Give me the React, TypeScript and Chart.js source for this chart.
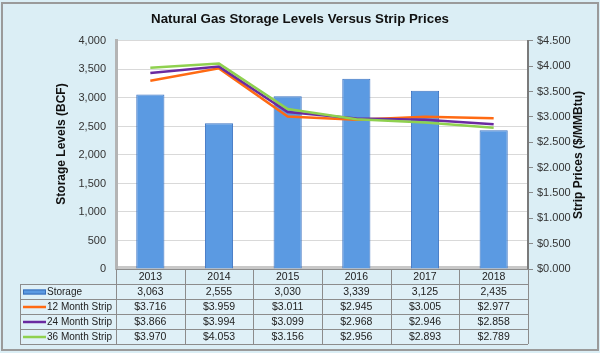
import React, { useEffect, useRef } from 'react';
import { Chart, registerables } from 'chart.js';

Chart.register(...registerables);

const categories = ['2013', '2014', '2015', '2016', '2017', '2018'];
const storage = [3063, 2555, 3030, 3339, 3125, 2435];
const strip12 = [3.716, 3.959, 3.011, 2.945, 3.005, 2.977];
const strip24 = [3.866, 3.994, 3.099, 2.968, 2.946, 2.858];
const strip36 = [3.97, 4.053, 3.156, 2.956, 2.893, 2.789];
const seriesNames = ['Storage', '12 Month Strip', '24 Month Strip', '36 Month Strip'];
const seriesColors = ['#5b9ae2', '#ff6a13', '#6a2aa0', '#8fd14f'];
const leftTitle = 'Storage Levels (BCF)';
const rightTitle = 'Strip Prices ($/MMBtu)';

const FONT = "Arial, 'Liberation Sans', sans-serif";
const fmtStorage = (v: number) => v.toLocaleString('en-US');
const fmtPrice = (v: number) => '$' + v.toFixed(3);

const bgPlugin = {
  id: 'bgPlugin',
  beforeDraw(chart: any) {
    const { ctx, chartArea, width, height } = chart;
    ctx.save();
    ctx.fillStyle = '#dbeef5';
    ctx.fillRect(0, 0, width, height);
    ctx.strokeStyle = '#9a9a9a';
    ctx.lineWidth = 2;
    ctx.strokeRect(2, 3, width - 4, height - 6);
    ctx.fillStyle = '#ffffff';
    ctx.fillRect(chartArea.left, chartArea.top, chartArea.right - chartArea.left, chartArea.bottom - chartArea.top);
    ctx.fillStyle = '#c8c8c8';
    ctx.fillRect(chartArea.left, chartArea.bottom - 3, chartArea.right - chartArea.left, 3);
    ctx.restore();
  },
};

const axisTitlePlugin = {
  id: 'axisTitlePlugin',
  afterDraw(chart: any) {
    const { ctx, chartArea } = chart;
    ctx.save();
    ctx.font = 'bold 12px ' + FONT;
    ctx.fillStyle = '#111111';
    ctx.textAlign = 'center';
    ctx.textBaseline = 'middle';
    const yc = (chartArea.top + chartArea.bottom) / 2;
    ctx.translate(62, yc - 11);
    ctx.rotate(-Math.PI / 2);
    ctx.fillText(leftTitle, 0, 0);
    ctx.restore();
    ctx.save();
    ctx.font = 'bold 12px ' + FONT;
    ctx.fillStyle = '#111111';
    ctx.textAlign = 'center';
    ctx.textBaseline = 'middle';
    ctx.translate(579, yc);
    ctx.rotate(-Math.PI / 2);
    ctx.fillText(rightTitle, 0, 0);
    ctx.restore();
  },
};

const tablePlugin = {
  id: 'tablePlugin',
  afterDraw(chart: any) {
    const { ctx, chartArea } = chart;
    const n = categories.length;
    const left = chartArea.left;
    const right = chartArea.right;
    const colW = (right - left) / n;
    const top = chartArea.bottom;
    const rowH = 15;
    const labelLeft = 20;
    const rows = [
      storage.map(fmtStorage),
      strip12.map(fmtPrice),
      strip24.map(fmtPrice),
      strip36.map(fmtPrice),
    ];
    ctx.save();
    ctx.fillStyle = '#dff0f7';
    ctx.fillRect(labelLeft, top + rowH, right - labelLeft, rowH * rows.length);
    ctx.strokeStyle = '#8c8c8c';
    ctx.lineWidth = 1;
    ctx.beginPath();
    ctx.moveTo(left, top + 0.5);
    ctx.lineTo(right, top + 0.5);
    for (let i = 0; i <= n; i++) {
      const x = Math.round(left + i * colW) + 0.5;
      ctx.moveTo(x, top);
      ctx.lineTo(x, top + rowH * (rows.length + 1));
    }
    for (let r = 1; r <= rows.length + 1; r++) {
      const y = Math.round(top + r * rowH) + 0.5;
      ctx.moveTo(labelLeft, y);
      ctx.lineTo(right, y);
    }
    ctx.moveTo(labelLeft + 0.5, top + rowH);
    ctx.lineTo(labelLeft + 0.5, top + rowH * (rows.length + 1));
    ctx.stroke();

    ctx.fillStyle = '#222222';
    ctx.textBaseline = 'middle';
    rows.forEach((vals, r) => {
      const yc = top + (r + 1) * rowH + rowH / 2 + 1;
      ctx.font = '10.5px ' + FONT;
      ctx.textAlign = 'center';
      vals.forEach((v, i) => {
        ctx.fillText(v, left + (i + 0.5) * colW, yc);
      });
      if (r === 0) {
        ctx.fillStyle = seriesColors[0];
        ctx.fillRect(23, yc - 3, 23, 5);
        ctx.strokeStyle = '#3a6fb8';
        ctx.strokeRect(23.5, yc - 2.5, 22, 4);
      } else {
        ctx.strokeStyle = seriesColors[r];
        ctx.lineWidth = 2.5;
        ctx.beginPath();
        ctx.moveTo(23, yc - 0.5);
        ctx.lineTo(46, yc - 0.5);
        ctx.stroke();
        ctx.lineWidth = 1;
      }
      ctx.fillStyle = '#222222';
      ctx.textAlign = 'left';
      ctx.font = '10px ' + FONT;
      ctx.fillText(seriesNames[r], 47, yc);
    });
    ctx.restore();
  },
};

export default function App() {
  const ref = useRef<HTMLCanvasElement | null>(null);
  useEffect(() => {
    if (!ref.current) return;
    const lineDs = (i: number, data: number[], order: number) => ({
      type: 'line',
      label: seriesNames[i],
      data,
      yAxisID: 'y1',
      borderColor: seriesColors[i],
      borderWidth: 2.5,
      pointRadius: 0,
      tension: 0,
      order,
    });
    const chart = new Chart(ref.current, {
      type: 'bar',
      data: {
        labels: categories,
        datasets: [
          lineDs(1, strip12, 2),
          lineDs(2, strip24, 1),
          lineDs(3, strip36, 0),
          {
            type: 'bar',
            label: seriesNames[0],
            data: storage,
            yAxisID: 'y',
            backgroundColor: seriesColors[0],
            borderColor: '#3d74c2',
            borderWidth: 1,
            categoryPercentage: 1,
            barPercentage: 0.41,
            order: 5,
          },
        ] as any,
      },
      options: {
        responsive: false,
        animation: false,
        layout: { padding: { bottom: 69, left: 0, right: 0, top: 0 } },
        plugins: {
          legend: { display: false },
          tooltip: { enabled: false },
          title: {
            display: true,
            text: 'Natural Gas Storage Levels Versus Strip Prices',
            color: '#111111',
            font: { family: FONT, size: 13.3, weight: 'bold' },
            padding: { top: 11, bottom: 14 },
          },
        },
        scales: {
          x: {
            offset: true,
            grid: { display: false, drawTicks: false },
            border: { display: false },
            ticks: { color: '#222222', font: { family: FONT, size: 10.5 }, padding: 2 },
            afterFit: (s: any) => { s.height = 15; },
          },
          y: {
            position: 'left',
            min: 0,
            max: 4000,
            ticks: {
              stepSize: 500,
              color: '#333333',
              font: { family: FONT, size: 11 },
              padding: 10,
              callback: (v: any) => fmtStorage(Number(v)),
            },
            grid: { color: '#d9d9d9', drawTicks: false },
            border: { color: '#b4b4b4', width: 3 },
            afterFit: (s: any) => { s.width = 116; },
          },
          y1: {
            position: 'right',
            min: 0,
            max: 4.5,
            ticks: {
              stepSize: 0.5,
              color: '#333333',
              font: { family: FONT, size: 11 },
              padding: 4,
              callback: (v: any) => fmtPrice(Number(v)),
            },
            grid: { drawOnChartArea: false, drawTicks: true, tickLength: 5, color: '#8a8a8a' },
            border: { color: '#7a7a7a', width: 2 },
            afterFit: (s: any) => { s.width = 72; },
          },
        },
      } as any,
      plugins: [bgPlugin, tablePlugin, axisTitlePlugin],
    });
    return () => chart.destroy();
  }, []);
  return (
    <div style={{ position: 'fixed', left: 0, top: 0, width: 600, height: 353 }}>
      <canvas ref={ref} width={600} height={353} />
    </div>
  );
}
